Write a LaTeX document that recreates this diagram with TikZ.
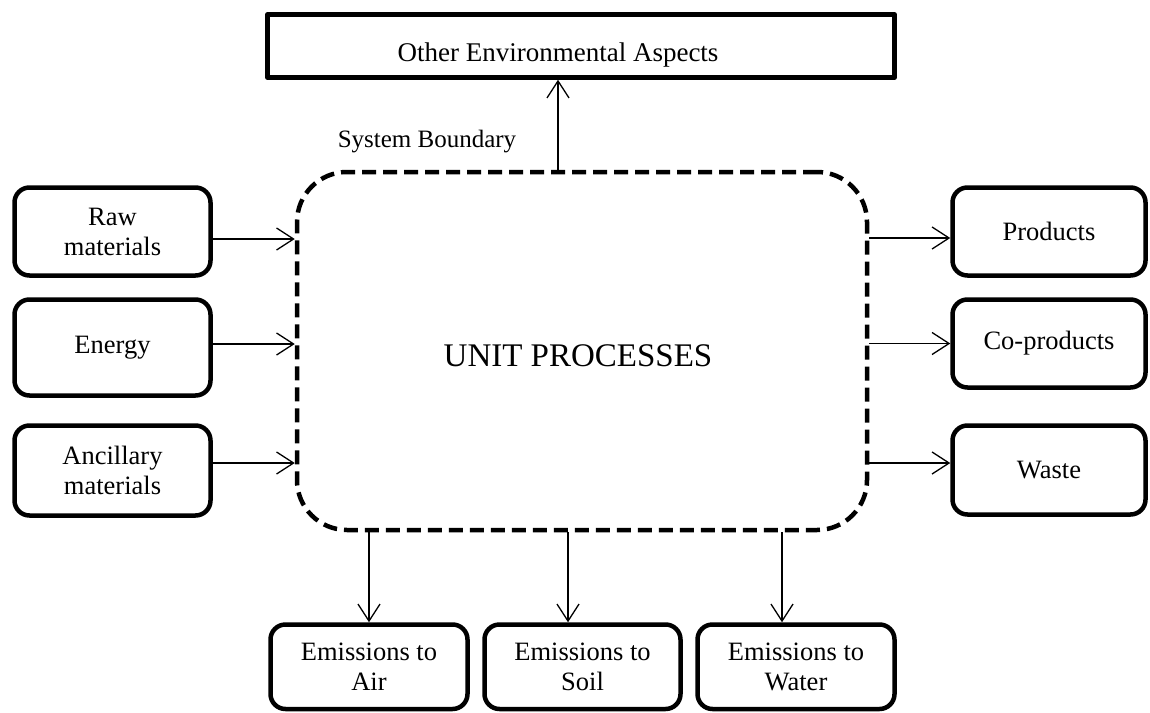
\documentclass[tikz,border=0pt]{standalone}
\usepackage{fontspec}
\setmainfont{Liberation Serif}
\usetikzlibrary{arrows.meta}

\begin{document}
\begin{tikzpicture}[x=1pt, y=-1pt,
  flowbox/.style={draw, line width=4.5pt, rounded corners=15pt, inner sep=0pt,
    align=center, font=\fontsize{26.5}{30}\selectfont},
  aspectbox/.style={draw, line width=4.5pt, line join=round, inner sep=0pt},
  boundary/.style={draw, line width=4.5pt, rounded corners=50pt, inner sep=0pt,
    dash pattern=on 14pt off 7pt, font=\fontsize{33}{38}\selectfont},
  flow/.style={line width=1.3pt, -{Straight Barb[length=17pt, width=22pt, line width=1.3pt]}}
]
\useasboundingbox (0,0) rectangle (1150,712);

% system boundary with the unit processes
\node[boundary, minimum width=570pt, minimum height=358pt] (ub) at (582,351) {};
\node[font=\fontsize{33}{38}\selectfont, anchor=base] (uplabel) at (578,366) {UNIT PROCESSES};
\node[font=\fontsize{25}{29}\selectfont, anchor=base] (sblabel) at (427,147) {System Boundary};

% other environmental aspects
\node[aspectbox, minimum width=627pt, minimum height=63pt] (oea) at (581,46) {};
\node[font=\fontsize{27}{31}\selectfont, anchor=base] (oealabel) at (558,61) {Other Environmental Aspects};

% inputs
\node[flowbox, minimum width=196pt, minimum height=88pt] (raw) at (112.5,231.5) {Raw\\materials};
\node[flowbox, minimum width=196pt, minimum height=96pt] (energy) at (112.5,347.5) {Energy};
\node[flowbox, minimum width=196pt, minimum height=90pt] (anc) at (112.5,470.5) {Ancillary\\materials};

% outputs
\node[flowbox, minimum width=193pt, minimum height=88pt] (prod) at (1049,231.5) {Products};
\node[flowbox, minimum width=193pt, minimum height=88pt] (coprod) at (1049,343.5) {Co-products};
\node[flowbox, minimum width=193pt, minimum height=89pt] (waste) at (1049,470) {Waste};

% emissions
\node[flowbox, minimum width=197pt, minimum height=84.5pt] (air) at (369,666.75) {Emissions to\\Air};
\node[flowbox, minimum width=196pt, minimum height=84.5pt] (soil) at (582.5,666.75) {Emissions to\\Soil};
\node[flowbox, minimum width=197pt, minimum height=84.5pt] (water) at (796,666.75) {Emissions to\\Water};

% flows into the system
\draw[flow] ([yshift=-7.5pt]raw.east) -- ([yshift=-7.5pt]raw.east -| ub.west);
\draw[flow] ([yshift=3.5pt]energy.east) -- ([yshift=3.5pt]energy.east -| ub.west);
\draw[flow] ([yshift=7.5pt]anc.east) -- ([yshift=7.5pt]anc.east -| ub.west);

% flows out of the system
\draw[flow] ([yshift=-6.5pt]prod.west -| ub.east) -- ([yshift=-6.5pt]prod.west);
\draw[flow] (coprod.west -| ub.east) -- (coprod.west);
\draw[flow] ([yshift=7pt]waste.west -| ub.east) -- ([yshift=7pt]waste.west);

\draw[flow] (ub.north -| oealabel) -- (oea.south -| oealabel);

\draw[flow] (ub.south -| air.north) -- (air.north);
\draw[flow] ([xshift=-14.5pt]ub.south -| soil.north) -- ([xshift=-14.5pt]soil.north);
\draw[flow] ([xshift=-14pt]ub.south -| water.north) -- ([xshift=-14pt]water.north);
\end{tikzpicture}
\end{document}
